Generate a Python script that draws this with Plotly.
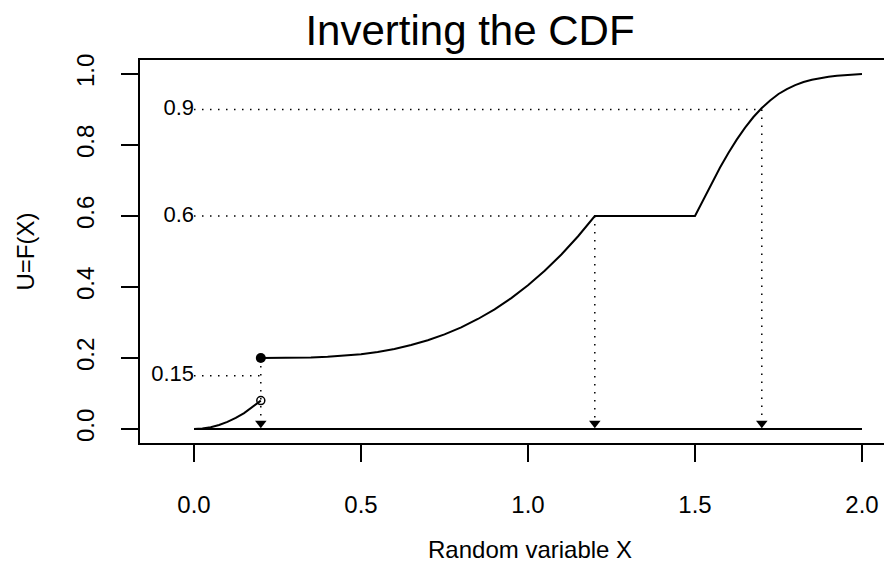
import plotly.graph_objects as go

# ---- data ----
# continuous part below the jump (0 <= x < 0.2)
low_x = [0, 0.025, 0.05, 0.075, 0.1, 0.125, 0.15, 0.175, 0.2]
low_y = [0, 0.0013, 0.005, 0.0113, 0.02, 0.0313, 0.045, 0.0613, 0.08]

# part above the jump (0.2 <= x <= 2.0)
high_x = [0.2, 0.25, 0.3, 0.35, 0.4, 0.45, 0.5, 0.55, 0.6, 0.65, 0.7,
          0.75, 0.8, 0.85, 0.9, 0.95, 1.0, 1.05, 1.1, 1.15, 1.2,
          1.5, 1.525, 1.55, 1.575, 1.6, 1.625, 1.65, 1.675, 1.7, 1.725,
          1.75, 1.775, 1.8, 1.825, 1.85, 1.875, 1.9, 1.925, 1.95, 1.975, 2.0]
high_y = [0.2, 0.2001, 0.2004, 0.2014, 0.2032, 0.2063, 0.2108, 0.2172, 0.2256,
          0.2365, 0.25, 0.2666, 0.2864, 0.3099, 0.3372, 0.3688, 0.4048,
          0.4457, 0.4916, 0.543, 0.6,
          0.6, 0.6468, 0.6924, 0.7364, 0.7776, 0.8152, 0.8488, 0.8788, 0.904,
          0.9256, 0.9436, 0.9576, 0.9688, 0.9776, 0.984, 0.9892, 0.9924,
          0.9952, 0.9968, 0.998, 1.0]

# baseline
base_x = [0, 2]
base_y = [0, 0]

# inversion examples
u_levels = [0.15, 0.6, 0.9]
u_labels = ["0.15", "0.6", "0.9"]
x_quant = [0.2, 1.2, 1.7]
v_start = [0.2, 0.6, 0.9]
arrow_y = [0.016, 0.016, 0.016]

# jump points
jump_closed = (0.2, 0.2)
jump_open = (0.2, 0.08)

x_ticks = [0, 0.5, 1.0, 1.5, 2.0]
x_ticktext = ["0.0", "0.5", "1.0", "1.5", "2.0"]
y_ticks = [0, 0.2, 0.4, 0.6, 0.8, 1.0]
y_ticktext = ["0.0", "0.2", "0.4", "0.6", "0.8", "1.0"]

FONT = "Liberation Sans, Arial, Helvetica, sans-serif"

fig = go.Figure()

# horizontal dotted guides
hx, hy = [], []
for u, xq in zip(u_levels, x_quant):
    hx += [0, xq, None]
    hy += [u, u, None]
fig.add_trace(go.Scatter(x=hx, y=hy, mode="lines",
                         line=dict(color="black", width=1.5, dash="1.5px,6.5px"),
                         hoverinfo="skip", showlegend=False))
# vertical dotted guides
vx, vy = [], []
for xq, vs, ay in zip(x_quant, v_start, arrow_y):
    vx += [xq, xq, None]
    vy += [vs, ay, None]
fig.add_trace(go.Scatter(x=vx, y=vy, mode="lines",
                         line=dict(color="black", width=1.5, dash="1.5px,6.5px"),
                         hoverinfo="skip", showlegend=False))

# baseline
fig.add_trace(go.Scatter(x=base_x, y=base_y, mode="lines",
                         line=dict(color="black", width=2),
                         hoverinfo="skip", showlegend=False))
# CDF pieces
fig.add_trace(go.Scatter(x=low_x, y=low_y, mode="lines",
                         line=dict(color="black", width=2),
                         showlegend=False))
fig.add_trace(go.Scatter(x=high_x, y=high_y, mode="lines",
                         line=dict(color="black", width=2),
                         showlegend=False))

# arrowheads
fig.add_trace(go.Scatter(x=x_quant, y=arrow_y, mode="markers",
                         marker=dict(symbol="triangle-down", size=10, color="black",
                                     line=dict(width=0)),
                         showlegend=False))
# jump points
fig.add_trace(go.Scatter(x=[jump_closed[0]], y=[jump_closed[1]], mode="markers",
                         marker=dict(symbol="circle", size=10, color="black"),
                         showlegend=False))
fig.add_trace(go.Scatter(x=[jump_open[0]], y=[jump_open[1]], mode="markers",
                         marker=dict(symbol="circle-open", size=8, color="black",
                                     line=dict(width=1.5)),
                         showlegend=False))

# level labels
fig.add_trace(go.Scatter(x=[0] * len(u_levels), y=u_levels, mode="text",
                         text=u_labels, textposition="middle left",
                         textfont=dict(family=FONT, size=22, color="black"),
                         showlegend=False))

fig.update_layout(
    width=884, height=576,
    margin=dict(l=140, r=0, t=60, b=133),
    paper_bgcolor="white", plot_bgcolor="white",
    font=dict(family=FONT, size=24, color="black"),
    title=dict(text="Inverting the CDF", x=470 / 884, xanchor="center",
               y=1 - 30 / 576, yanchor="middle", yref="container",
               font=dict(family=FONT, size=42, color="black")),
    xaxis=dict(range=[-0.1617, 2.0659], tickvals=x_ticks, ticktext=x_ticktext,
               ticks="outside", ticklen=17, tickwidth=1.5, tickcolor="black",
               showline=True, mirror=True, linecolor="black", linewidth=1.5,
               showgrid=False, zeroline=False, ticklabelstandoff=22,
               tickfont=dict(family=FONT, size=24, color="black")),
    yaxis=dict(range=[-0.0394, 1.0394], tickvals=y_ticks, ticktext=y_ticktext,
               ticks="outside", ticklen=17, tickwidth=1.5, tickcolor="black",
               showline=True, mirror=False, linecolor="black", linewidth=1.5,
               showgrid=False, zeroline=False, tickangle=-90, ticklabelstandoff=18,
               tickfont=dict(family=FONT, size=24, color="black")),
    annotations=[
        dict(text="Random variable X", xref="paper", yref="paper",
             x=(530 - 140) / 744, y=(443 - 549) / 383, xanchor="center", yanchor="middle",
             showarrow=False, font=dict(family=FONT, size=24, color="black")),
        dict(text="U=F(X)", xref="paper", yref="paper",
             x=(25 - 140) / 744, y=0.5, xanchor="center", yanchor="middle",
             textangle=-90, showarrow=False,
             font=dict(family=FONT, size=24, color="black")),
    ],
)

fig.write_html("out.html")
